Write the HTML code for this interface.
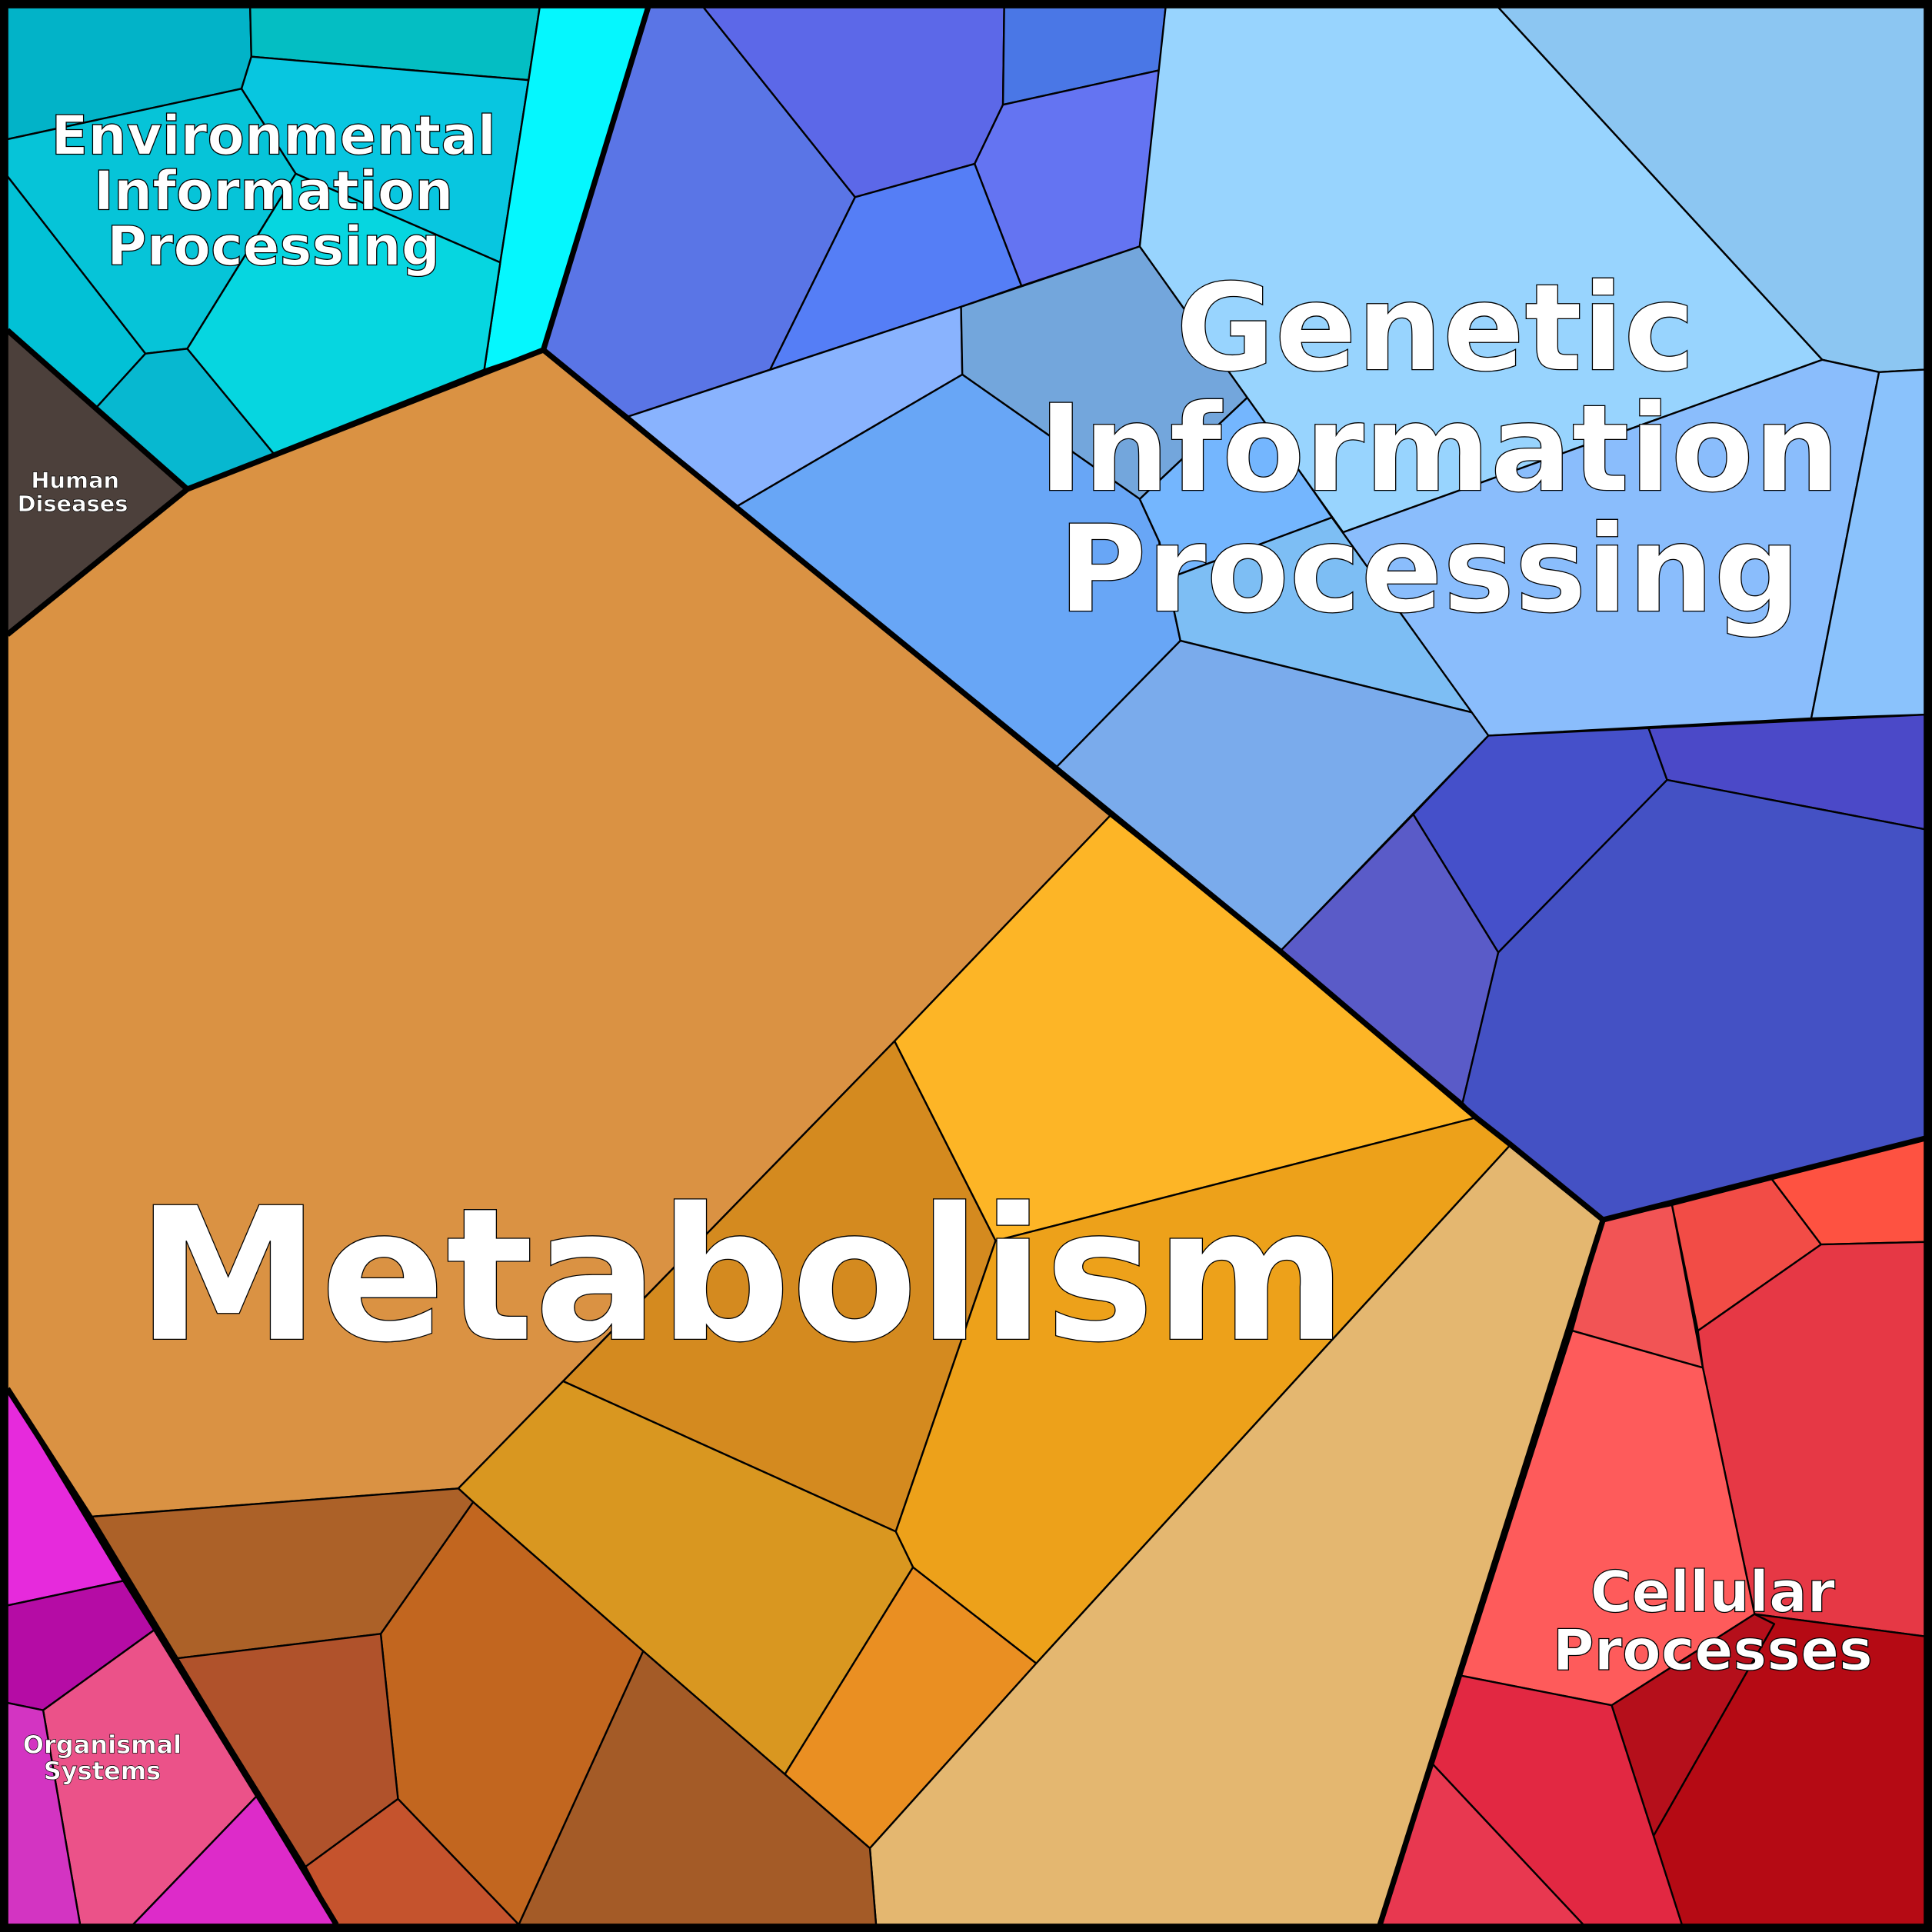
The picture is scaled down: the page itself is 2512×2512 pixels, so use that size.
<!DOCTYPE html>
<html><head><meta charset="utf-8"><style>html,body{margin:0;padding:0;background:#000}svg{display:block}</style></head>
<body>
<svg width="2512" height="2512" viewBox="0 0 1568 1568" xmlns="http://www.w3.org/2000/svg">
<rect x="0" y="0" width="1568" height="1568" fill="#000"/>
<g stroke="#000" stroke-width="1.5" stroke-linejoin="round">
<polygon fill="#02B3C8" points="6,6 203,6 204,46 196,72 6,113"/>
<polygon fill="#04BEC3" points="203,6 438,6 429,65 204,46"/>
<polygon fill="#08C6E0" points="196,72 204,46 429,65 406,213 240,141"/>
<polygon fill="#05F7FE" points="438,6 526,6 441,284 393,300 406,213 429,65"/>
<polygon fill="#06C4D8" points="6,113 196,72 240,141 152,283 118,287 6,143"/>
<polygon fill="#02C1D6" points="6,143 118,287 78,331 6,268"/>
<polygon fill="#07B8D0" points="78,331 118,287 152,283 222,368 152,397"/>
<polygon fill="#06D6E0" points="152,283 240,141 406,213 393,300 222,368"/>
<polygon fill="#4C403B" points="6,268 152,397 6,515"/>
<polygon fill="#DA9243" points="6,515 152,397 441,284 901,662 726,845 457,1121 372,1208 73,1231 6,1127"/>
<polygon fill="#FDB526" points="901,662 1039,772 1198,907 808,1007 726,845"/>
<polygon fill="#D48A1F" points="726,845 808,1007 727,1243 457,1121"/>
<polygon fill="#EDA11A" points="808,1007 1198,907 1226,929 841,1350 741,1272 727,1243"/>
<polygon fill="#D99720" points="457,1121 727,1243 741,1272 637,1440 522,1340 384,1219 372,1208"/>
<polygon fill="#EA8F22" points="741,1272 841,1350 706,1500 637,1440"/>
<polygon fill="#E4B770" points="1226,929 1301,990 1120,1562 711,1562 706,1500 841,1350"/>
<polygon fill="#A45B27" points="522,1340 637,1440 706,1500 711,1562 421,1562"/>
<polygon fill="#C2661F" points="384,1219 522,1340 421,1562 323,1460 309,1326"/>
<polygon fill="#AC6128" points="73,1231 372,1208 384,1219 309,1326 143,1346"/>
<polygon fill="#B0522B" points="143,1346 309,1326 323,1460 248,1515"/>
<polygon fill="#C5532D" points="248,1515 323,1460 421,1562 273,1562"/>
<polygon fill="#E62ADC" points="6,1127 100,1283 6,1303"/>
<polygon fill="#B50CA5" points="6,1303 100,1283 125,1323 35,1388 6,1382"/>
<polygon fill="#EB5289" points="35,1388 125,1323 208,1458 108,1562 65,1562"/>
<polygon fill="#DD2BC9" points="208,1458 273,1562 108,1562"/>
<polygon fill="#D334C2" points="6,1382 35,1388 65,1562 6,1562"/>
<polygon fill="#5A75E6" points="526,6 571,6 694,160 625,300 510,338 441,284"/>
<polygon fill="#5C68E8" points="571,6 815,6 814,85 791,133 694,160"/>
<polygon fill="#4A77E6" points="815,6 946,6 941,57 814,85"/>
<polygon fill="#6474F2" points="814,85 941,57 925,200 829,232 791,133"/>
<polygon fill="#557EF6" points="694,160 791,133 829,232 780,249 625,300"/>
<polygon fill="#89B3FE" points="510,338 780,249 781,304 598,411"/>
<polygon fill="#73A6DC" points="780,249 925,200 1013,322 925,405 781,304"/>
<polygon fill="#68A6F6" points="598,411 781,304 925,405 941,440 958,520 857,623"/>
<polygon fill="#74B6FE" points="925,405 1013,322 1081,420 941,472 941,440"/>
<polygon fill="#7DBEF4" points="941,472 1081,420 1198,579 958,520 941,440"/>
<polygon fill="#7AABEC" points="857,623 958,520 1198,579 1208,597 1039,772"/>
<polygon fill="#98D4FE" points="946,6 1216,6 1479,292 1090,432 925,200"/>
<polygon fill="#8CC6F2" points="1216,6 1562,6 1562,300 1525,302 1479,292"/>
<polygon fill="#8ABDFC" points="1090,432 1479,292 1525,302 1470,583 1208,597 1081,420"/>
<polygon fill="#8AC2FC" points="1525,302 1562,300 1562,580 1470,583"/>
<polygon fill="#4550CA" points="1208,597 1338,591 1353,633 1216,773 1147,661"/>
<polygon fill="#4B49C8" points="1338,591 1562,580 1562,673 1353,633"/>
<polygon fill="#5A5BC8" points="1039,772 1147,661 1216,773 1187,895"/>
<polygon fill="#4451C4" points="1216,773 1353,633 1562,673 1562,924 1301,990 1198,907 1187,895"/>
<polygon fill="#F25455" points="1301,990 1357,978 1382,1110 1276,1080"/>
<polygon fill="#F24C46" points="1357,978 1438,957 1478,1010 1378,1080"/>
<polygon fill="#FE5241" points="1438,957 1562,924 1562,1008 1478,1010"/>
<polygon fill="#E63845" points="1378,1080 1478,1010 1562,1008 1562,1328 1424,1310 1382,1110"/>
<polygon fill="#FE5B5B" points="1276,1080 1382,1110 1424,1310 1308,1384 1186,1360"/>
<polygon fill="#B50F1B" points="1308,1384 1424,1310 1440,1318 1342,1490"/>
<polygon fill="#B50A14" points="1424,1310 1562,1328 1562,1562 1365,1562 1342,1490 1440,1318"/>
<polygon fill="#E22842" points="1186,1360 1308,1384 1342,1490 1365,1562 1285,1562 1163,1432"/>
<polygon fill="#E83850" points="1163,1432 1285,1562 1120,1562"/>
</g>
<g stroke="#000" stroke-width="4.5" fill="none" stroke-linejoin="round">
<polyline points="526,6 441,284 152,397 6,268"/>
<polyline points="152,397 6,515"/>
<polyline points="441,284 1039,772 1198,907 1226,929 1301,990 1562,924"/>
<polyline points="1301,990 1120,1562"/>
<polyline points="6,1127 73,1231 273,1562"/>
<rect x="3" y="3" width="1562" height="1562"/>
</g>
<g font-family="'DejaVu Sans','Liberation Sans',sans-serif" font-weight="bold" fill="#fff" stroke="#000" stroke-width="0.8" text-anchor="middle">
<text x="602" y="1087" font-size="150">Metabolism</text>
<text x="1165" y="300" font-size="98">Genetic</text>
<text x="1168" y="398" font-size="98">Information</text>
<text x="1160" y="496" font-size="98">Processing</text>
<text x="222" y="125" font-size="44">Environmental</text>
<text x="222" y="170" font-size="44">Information</text>
<text x="222" y="215" font-size="44">Processing</text>
<text x="1390" y="1308" font-size="46">Cellular</text>
<text x="1390" y="1355" font-size="46">Processes</text>
<text x="61" y="396" font-size="18" stroke-width="0.4">Human</text>
<text x="59" y="415" font-size="18" stroke-width="0.4">Diseases</text>
<text x="83" y="1423" font-size="20" stroke-width="0.4">Organismal</text>
<text x="83" y="1444" font-size="20" stroke-width="0.4">Systems</text>
</g>
</svg>
</body></html>
